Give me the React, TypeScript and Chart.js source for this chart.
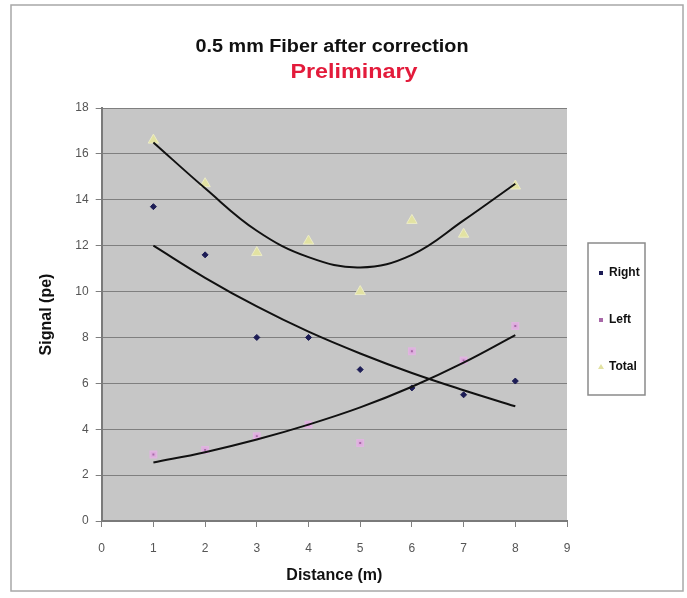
import React, { useEffect, useRef } from "react";
import { Chart, registerables } from "chart.js";

Chart.register(...registerables);

// ---- data ----
const distances = [1, 2, 3, 4, 5, 6, 7, 8];
const rightSignal = [13.7, 11.6, 8.0, 8.0, 6.6, 5.8, 5.5, 6.1];
const leftSignal = [2.9, 3.1, 3.7, 4.2, 3.4, 7.4, 7.0, 8.5];
const totalSignal = [16.6, 14.7, 11.7, 12.2, 10.0, 13.1, 12.5, 14.6];

// trend lines at each distance
const rightTrend = [12.0, 10.6, 9.35, 8.25, 7.3, 6.45, 5.7, 5.0];
const leftTrend = [2.55, 3.0, 3.55, 4.2, 4.95, 5.85, 6.9, 8.1];
const totalTrend = [16.5, 14.5, 12.65, 11.5, 11.05, 11.6, 13.1, 14.7];

const seriesNames = ["Right", "Left", "Total"];
const chartTitle = "0.5 mm Fiber after correction";
const chartSubtitle = "Preliminary";
const xAxisTitle = "Distance (m)";
const yAxisTitle = "Signal (pe)";
const xRange = [0, 9];
const yRange = [0, 18];

const pts = (xs: number[], ys: number[]) => xs.map((x, i) => ({ x, y: ys[i] }));

const FONT = "'Liberation Sans', Arial, sans-serif";

const decorPlugin = {
  id: "decor",
  beforeDraw(chart: any) {
    const { ctx, chartArea: a, width, height } = chart;
    ctx.save();
    ctx.fillStyle = "#ffffff";
    ctx.fillRect(0, 0, width, height);
    ctx.fillStyle = "#c6c6c6";
    ctx.fillRect(a.left, a.top, a.right - a.left, a.bottom - a.top);
    ctx.restore();
  },
  afterDraw(chart: any) {
    const { ctx } = chart;
    ctx.save();
    // outer chart border
    ctx.strokeStyle = "#a8a8a8";
    ctx.lineWidth = 1.5;
    ctx.strokeRect(11, 5, 672, 586);

    const fitText = (t: string, font: string, color: string, cx: number, cy: number, w: number) => {
      ctx.save();
      ctx.font = font;
      ctx.fillStyle = color;
      ctx.textAlign = "center";
      ctx.textBaseline = "middle";
      const mw = ctx.measureText(t).width;
      ctx.translate(cx, cy);
      ctx.scale(w / mw, 1);
      ctx.fillText(t, 0, 0);
      ctx.restore();
    };
    fitText(chartTitle, `bold 18px ${FONT}`, "#111111", 332, 47, 273);
    fitText(chartSubtitle, `bold 20px ${FONT}`, "#e31b3b", 354, 72, 127);

    // legend box
    const lx = 588, ly = 243, lw = 57, lh = 152;
    ctx.fillStyle = "#ffffff";
    ctx.fillRect(lx, ly, lw, lh);
    ctx.strokeStyle = "#8a8a8a";
    ctx.lineWidth = 1.5;
    ctx.strokeRect(lx, ly, lw, lh);
    const rows = [273, 320, 367];
    ctx.font = `bold 12px ${FONT}`;
    ctx.textBaseline = "middle";
    ctx.textAlign = "left";
    const markerDs = chart.data.datasets.filter((d: any) => !d.isTrend);
    markerDs.forEach((d: any, i: number) => {
      const y = rows[i];
      const mx = 601;
      ctx.fillStyle = d.backgroundColor;
      if (d.pointStyle === "triangle") {
        ctx.beginPath();
        ctx.moveTo(mx, y - 3);
        ctx.lineTo(mx + 3, y + 2);
        ctx.lineTo(mx - 3, y + 2);
        ctx.closePath();
        ctx.fill();
      } else {
        ctx.fillRect(mx - 2, y - 2, 4, 4);
      }
      ctx.fillStyle = "#111111";
      ctx.fillText(d.label, 609, y);
    });
    ctx.restore();
  },
};

export default function App() {
  const ref = useRef<HTMLCanvasElement | null>(null);
  useEffect(() => {
    if (!ref.current) return;
    const trendStyle = {
      showLine: true,
      borderColor: "#111111",
      borderWidth: 2,
      pointRadius: 0,
      tension: 0.4,
      fill: false,
      isTrend: true,
      order: 0,
    };
    const chart = new Chart(ref.current, {
      type: "scatter",
      data: {
        datasets: [
          {
            label: seriesNames[0],
            data: pts(distances, rightSignal),
            pointStyle: "rectRot",
            pointRadius: 3,
            backgroundColor: "#1c1c55",
            borderColor: "#1c1c55",
            borderWidth: 1,
            order: 1,
          } as any,
          {
            label: seriesNames[1],
            data: pts(distances, leftSignal),
            pointStyle: "rect",
            pointRadius: 3.5,
            backgroundColor: "#a868a8",
            borderColor: "rgba(226,178,226,0.9)",
            borderWidth: 3,
            order: 1,
          } as any,
          {
            label: seriesNames[2],
            data: pts(distances, totalSignal),
            pointStyle: "triangle",
            pointRadius: 6,
            backgroundColor: "#e2e2a2",
            borderColor: "#ececc6",
            borderWidth: 1,
            order: 1,
          } as any,
          { label: "Right trend", data: pts(distances, rightTrend), ...trendStyle } as any,
          { label: "Left trend", data: pts(distances, leftTrend), ...trendStyle } as any,
          { label: "Total trend", data: pts(distances, totalTrend), ...trendStyle } as any,
        ],
      },
      options: {
        animation: false,
        responsive: true,
        maintainAspectRatio: false,
        layout: { padding: { top: 108, right: 120, left: 0, bottom: 0 } },
        plugins: { legend: { display: false }, tooltip: { enabled: false }, title: { display: false } },
        scales: {
          x: {
            type: "linear",
            min: xRange[0],
            max: xRange[1],
            ticks: { stepSize: 1, color: "#555555", font: { family: FONT, size: 12 }, padding: 14 },
            grid: { drawOnChartArea: false, drawTicks: true, tickLength: 6, color: "#808080" },
            border: { display: true, color: "#7a7a7a", width: 2 },
            title: {
              display: true,
              text: xAxisTitle,
              color: "#111111",
              font: { family: FONT, size: 16, weight: "bold" },
              padding: { top: 0, bottom: 13 },
            },
            afterFit: (s: any) => {
              s.height = 77;
            },
          },
          y: {
            min: yRange[0],
            max: yRange[1],
            ticks: { stepSize: 2, color: "#555555", font: { family: FONT, size: 12 }, padding: 7 },
            grid: { color: "#7f7f7f", lineWidth: 1, tickLength: 6 },
            border: { display: true, color: "#7a7a7a", width: 2 },
            title: {
              display: true,
              text: yAxisTitle,
              color: "#111111",
              font: { family: FONT, size: 16, weight: "bold" },
              padding: { top: 37, bottom: 0 },
            },
            afterFit: (s: any) => {
              s.width = 101.7;
            },
          },
        },
      } as any,
      plugins: [decorPlugin],
    });
    return () => chart.destroy();
  }, []);
  return (
    <div style={{ position: "absolute", left: 0, top: 0, width: 687, height: 598 }}>
      <canvas ref={ref} />
    </div>
  );
}
